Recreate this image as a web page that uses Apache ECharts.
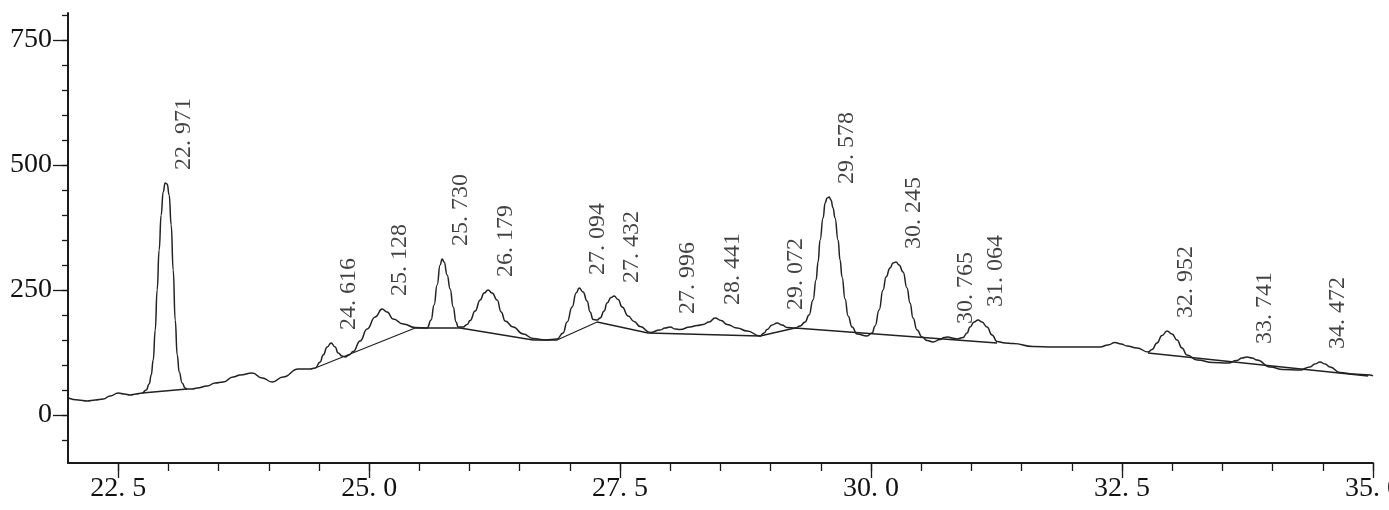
<!DOCTYPE html>
<html>
<head>
<meta charset="utf-8">
<script src="https://cdn.jsdelivr.net/npm/echarts@6/dist/echarts.min.js"></script>
<style>
html,body{margin:0;padding:0;background:#fff;overflow:hidden;}
#chart{width:1389px;height:510px;}
</style>
</head>
<body>
<div id="chart"></div>
<script>
// retention time (min) of the trace
var signalTime = [22.002,22.102,22.191,22.271,22.351,22.420,22.500,22.560,22.620,22.679,22.739,22.779,22.809,22.829,22.849,22.869,22.888,22.908,22.928,22.948,22.968,22.988,23.008,23.028,23.048,23.068,23.088,23.108,23.137,23.167,23.187,23.237,23.287,23.386,23.466,23.546,23.645,23.715,23.835,23.934,24.034,24.143,24.293,24.412,24.462,24.512,24.542,24.582,24.621,24.661,24.691,24.731,24.761,24.801,24.841,24.910,24.980,25.060,25.129,25.179,25.239,25.339,25.458,25.578,25.617,25.647,25.677,25.707,25.727,25.747,25.777,25.807,25.837,25.866,25.886,25.936,25.976,26.006,26.056,26.106,26.145,26.185,26.225,26.275,26.315,26.355,26.434,26.534,26.633,26.753,26.872,26.932,26.972,27.022,27.062,27.092,27.131,27.171,27.201,27.231,27.271,27.301,27.341,27.370,27.410,27.440,27.480,27.520,27.580,27.639,27.699,27.799,27.898,27.948,27.998,28.048,28.098,28.197,28.267,28.327,28.386,28.446,28.506,28.566,28.665,28.765,28.894,28.934,28.964,29.014,29.064,29.113,29.163,29.243,29.293,29.343,29.382,29.422,29.452,29.472,29.492,29.522,29.542,29.562,29.582,29.601,29.621,29.641,29.671,29.691,29.711,29.741,29.771,29.811,29.860,29.960,30.010,30.040,30.080,30.119,30.149,30.189,30.219,30.249,30.279,30.319,30.358,30.388,30.418,30.458,30.508,30.558,30.617,30.687,30.727,30.767,30.807,30.856,30.916,30.956,30.986,31.026,31.066,31.105,31.155,31.205,31.255,31.335,31.414,31.613,31.813,32.082,32.281,32.360,32.430,32.490,32.550,32.649,32.759,32.799,32.848,32.898,32.948,32.998,33.048,33.097,33.147,33.247,33.406,33.556,33.645,33.695,33.745,33.795,33.844,33.974,34.103,34.273,34.372,34.422,34.472,34.522,34.572,34.671,34.801,34.970,35.000];
// detector response of the trace
var signalValue = [34,30,28,30,32,38,44,42,40,42,44,50,62,80,110,170,250,330,400,446,464,462,440,380,290,190,120,86,64,54,52,52,54,58,64,66,76,80,84,74,66,76,92,92,94,106,120,136,144,136,124,118,116,120,127,148,172,196,212,206,192,182,175,174,190,220,260,300,312,306,280,252,216,186,176,176,181,189,208,230,244,250,244,230,206,188,176,162,153,150,152,164,186,216,244,254,246,228,206,191,190,194,208,224,235,238,231,216,198,187,177,165,170,174,176,172,171,176,179,181,186,194,189,181,174,168,158,164,171,180,184,180,175,174,178,186,200,230,270,306,350,394,424,434,436,430,414,394,350,310,276,232,198,176,162,158,164,178,210,250,276,294,304,306,300,286,254,224,194,170,156,149,146,151,155,156,154,152,155,164,176,186,190,186,176,160,147,144,143,137,136,136,136,140,145,142,138,134,126,131,144,159,168,162,150,134,120,110,105,104,109,114,116,114,110,96,91,90,96,102,106,102,96,85,82,80,78];
// integration baselines (null = gap)
var baseTime = [22.739,23.187,null,24.462,25.458,25.906,26.633,26.872,27.271,27.779,28.894,29.243,31.255,null,32.759,34.950];
var baseValue = [44,52,null,94,174,174,150,150,186,164,158,174,144,null,124,78];
// labelled peaks
var peakTimes = [22.971,24.616,25.128,25.730,26.179,27.094,27.432,27.996,28.441,29.072,29.578,30.245,30.765,31.064,32.952,33.741,34.472];
var peakHeights = [464,144,212,312,250,254,238,176,194,184,436,306,156,190,168,116,106];
// axis ticks
var xMajorTicks = [22.5,25.0,27.5,30.0,32.5,35.0];
var xMinorTicks = [22.5,23.0,23.5,24.0,24.5,25.0,25.5,26.0,26.5,27.0,27.5,28.0,28.5,29.0,29.5,30.0,30.5,31.0,31.5,32.0,32.5,33.0,33.5,34.0,34.5,35.0];
var yMajorTicks = [0,250,500,750];
var yMinorTicks = [-50,0,50,100,150,200,250,300,350,400,450,500,550,600,650,700,750,800];

function fmt(v, d){ return v.toFixed(d).replace('.', '. '); }

var signal = signalTime.map(function(t,i){ return [t, signalValue[i]]; });
var base = baseTime.map(function(t,i){ return t === null ? [null,null] : [t, baseValue[i]]; });
var peaks = peakTimes.map(function(t,i){ return [t, peakHeights[i]]; });

var FONT = 'Liberation Serif';
var INK = '#1a1a1a';

var chart = echarts.init(document.getElementById('chart'), null, {renderer:'canvas'});
var xBase = {type:'value', min:22.0, max:35.0, position:'bottom', splitLine:{show:false}};
var yBase = {type:'value', min:-96, max:804, position:'left', splitLine:{show:false}};
chart.setOption({
  animation:false,
  backgroundColor:'#fff',
  grid:{left:68, right:16, top:13, bottom:47, containLabel:false, outerBoundsMode:'none'},
  xAxis:[
    Object.assign({}, xBase, {
      axisLine:{show:true, onZero:false, lineStyle:{color:INK, width:2}},
      axisTick:{show:true, length:8, customValues:xMinorTicks, lineStyle:{color:INK, width:1.3}},
      axisLabel:{show:false}
    }),
    Object.assign({}, xBase, {
      axisLine:{show:false, onZero:false},
      axisTick:{show:true, length:15, customValues:xMajorTicks, lineStyle:{color:INK, width:1.3}},
      axisLabel:{show:true, customValues:xMajorTicks, margin:12, color:'#111', fontFamily:FONT, fontSize:28,
        formatter:function(v){ return fmt(v,1); }}
    })
  ],
  yAxis:[
    Object.assign({}, yBase, {
      axisLine:{show:true, onZero:false, lineStyle:{color:INK, width:2}},
      axisTick:{show:true, length:6, customValues:yMinorTicks, lineStyle:{color:INK, width:1.3}},
      axisLabel:{show:false}
    }),
    Object.assign({}, yBase, {
      axisLine:{show:false, onZero:false},
      axisTick:{show:true, length:15, customValues:yMajorTicks, lineStyle:{color:INK, width:1.3}},
      axisLabel:{show:true, customValues:yMajorTicks, margin:16, color:'#111', fontFamily:FONT, fontSize:28}
    })
  ],
  series:[
    {type:'line', data:signal, xAxisIndex:0, yAxisIndex:0, showSymbol:false, symbol:'none',
     smooth:0.5, smoothMonotone:'x', lineStyle:{color:'#222', width:1.5}, z:3},
    {type:'line', data:base, xAxisIndex:0, yAxisIndex:0, showSymbol:false, symbol:'none', connectNulls:false,
     lineStyle:{color:'#222', width:1.3}, z:2},
    {type:'scatter', data:peaks, xAxisIndex:0, yAxisIndex:0, symbolSize:0, silent:true,
     label:{show:true, position:[18,-13], rotate:90, align:'left', verticalAlign:'middle',
       color:'#111', fontFamily:FONT, fontSize:24,
       formatter:function(p){ return fmt(p.value[0],3); }}, z:4}
  ]
});
</script>
</body>
</html>
